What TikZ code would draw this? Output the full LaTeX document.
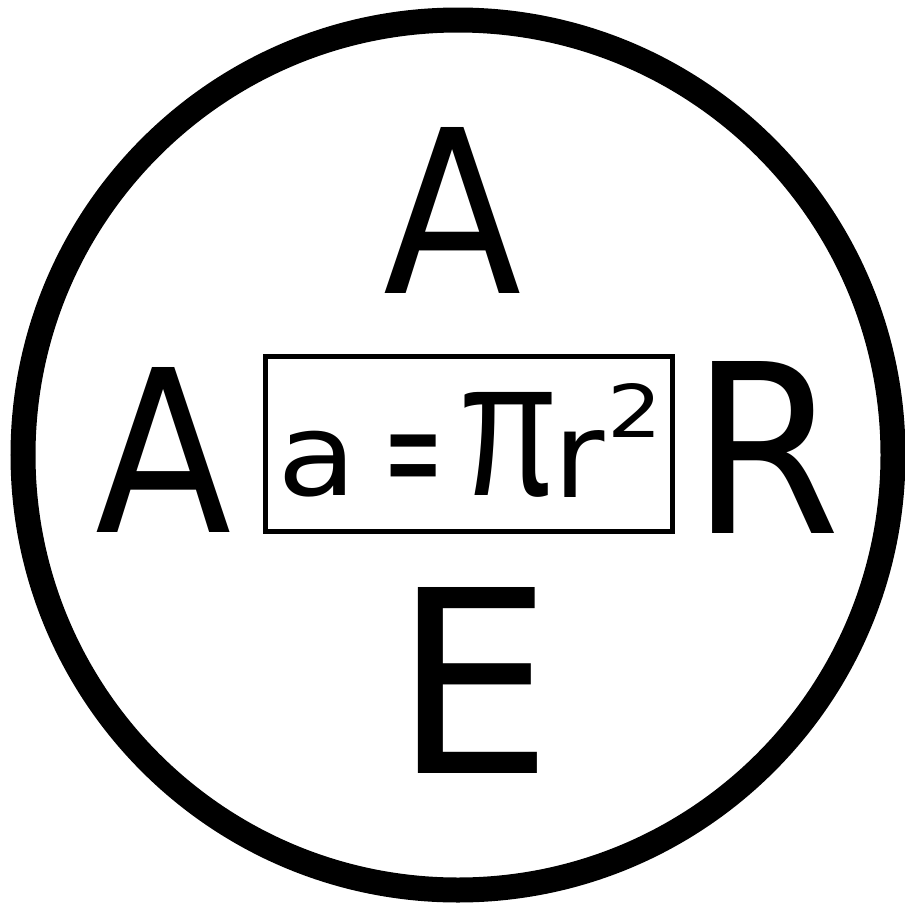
\documentclass[tikz,border=0pt]{standalone}
\usepackage{fontspec}
\setmainfont{DejaVu Sans}
\newfontfamily\pifont{Liberation Sans}
\newdimen\inkL \newdimen\inkT \newdimen\inkR \newdimen\inkB
% glyph scaled so that its ink fits exactly #2 x #3
\newcommand\inkfit[4][]{%
  \resizebox{#2}{#3}{#1\fontsize{100}{100}\selectfont
    \inkL=\XeTeXglyphbounds1 \XeTeXcharglyph`#4\relax
    \inkT=\XeTeXglyphbounds2 \XeTeXcharglyph`#4\relax
    \inkR=\XeTeXglyphbounds3 \XeTeXcharglyph`#4\relax
    \inkB=\XeTeXglyphbounds4 \XeTeXcharglyph`#4\relax
    \raisebox{\inkB}[\dimexpr\inkT+\inkB\relax][0pt]{\kern-\inkL #4\kern-\inkR}}}
\tikzset{
  ink/.style={inner sep=0pt, outer sep=0pt, anchor=north west},
}
\begin{document}
\begin{tikzpicture}[x=1pt, y=-1pt]
\useasboundingbox (0,0) rectangle (905,905);
\node[circle, draw, line width=25pt, minimum size=870pt, inner sep=0pt] (ring) at (458,455) {};
\node[draw, line width=5pt, minimum width=406.5pt, minimum height=175pt, inner sep=0pt] (box) at (468.75,444) {};
\node[ink] (atop)  at (385,127) {\inkfit{135pt}{166pt}{A}};
\node[ink] (aleft) at (97,367)  {\inkfit{133pt}{165pt}{A}};
\node[ink] (rr)    at (713,361) {\inkfit{122pt}{172pt}{R}};
\node[ink] (ee)    at (418,587) {\inkfit{119pt}{186pt}{E}};
\node[ink] (fa)    at (285,431) {\inkfit{60pt}{66pt}{a}};
\node[ink] (feq)   at (391,435) {\inkfit{45pt}{42pt}{=}};
\node[ink] (fpi)   at (465,392) {\inkfit[\pifont]{87pt}{105pt}{π}};
\node[ink] (fr)    at (565,430) {\inkfit{40pt}{67pt}{r}};
\node[ink] (ftwo)  at (614,383) {\inkfit{40pt}{54pt}{2}};
\end{tikzpicture}
\end{document}
